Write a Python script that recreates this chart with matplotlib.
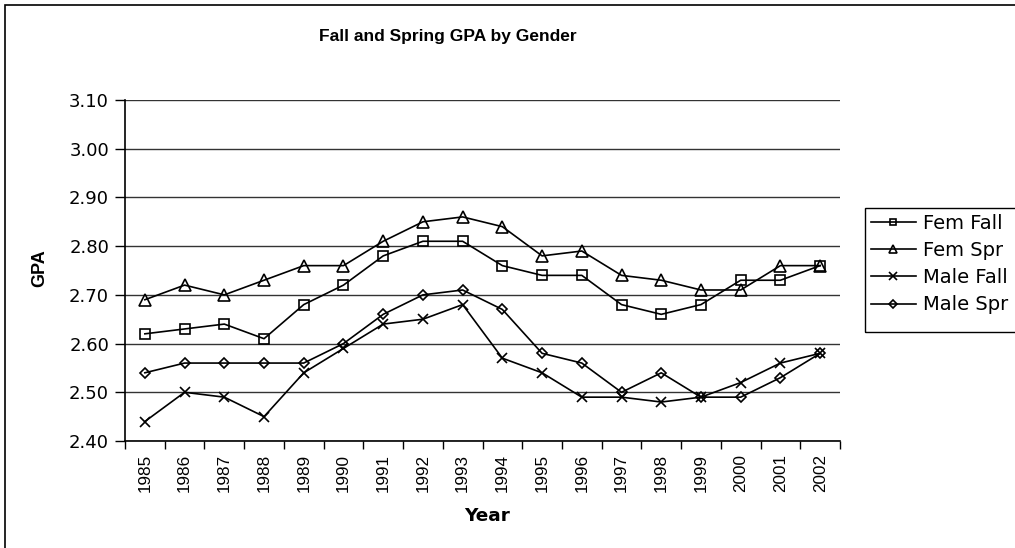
import matplotlib
matplotlib.use("Agg")
import matplotlib.pyplot as plt
from matplotlib.patches import Rectangle
import numpy as np

plt.rcParams['font.family'] = ['DejaVu Sans']

years = ['1985', '1986', '1987', '1988', '1989', '1990', '1991', '1992', '1993',
         '1994', '1995', '1996', '1997', '1998', '1999', '2000', '2001', '2002']
fem_fall = [2.62, 2.63, 2.64, 2.61, 2.68, 2.72, 2.78, 2.81, 2.81, 2.76, 2.74, 2.74,
            2.68, 2.66, 2.68, 2.73, 2.73, 2.76]
fem_spr = [2.69, 2.72, 2.70, 2.73, 2.76, 2.76, 2.81, 2.85, 2.86, 2.84, 2.78, 2.79,
           2.74, 2.73, 2.71, 2.71, 2.76, 2.76]
male_fall = [2.44, 2.50, 2.49, 2.45, 2.54, 2.59, 2.64, 2.65, 2.68, 2.57, 2.54, 2.49,
             2.49, 2.48, 2.49, 2.52, 2.56, 2.58]
male_spr = [2.54, 2.56, 2.56, 2.56, 2.56, 2.60, 2.66, 2.70, 2.71, 2.67, 2.58, 2.56,
            2.50, 2.54, 2.49, 2.49, 2.53, 2.58]
yticks = [2.40, 2.50, 2.60, 2.70, 2.80, 2.90, 3.00, 3.10]

W, H = 1015, 548
fig = plt.figure(figsize=(W/100, H/100), dpi=100)
ax = fig.add_axes([125/W, 1-441/H, (840-125)/W, (441-100)/H])

x = np.arange(len(years))
series = [
    (fem_fall, 's', 'Fem Fall', 6.5),
    (fem_spr, '^', 'Fem Spr', 8),
    (male_fall, 'x', 'Male Fall', 7.5),
    (male_spr, 'D', 'Male Spr', 5.5),
]
handles = []
for vals, m, lab, ms in series:
    h, = ax.plot(x, vals, color='black', lw=1.2, marker=m, ms=ms,
                 mfc='none', mec='black', mew=1.2, label=lab)
    handles.append(h)

ax.set_xlim(-0.5, len(years)-0.5)
ax.set_ylim(2.40, 3.10)
ax.set_yticks(yticks)
ax.set_yticklabels([f'{v:.2f}' for v in yticks], fontsize=13, family='DejaVu Sans')
ax.set_xticks(x)
ax.set_xticklabels(years, rotation=90, fontsize=12.3, family='Liberation Sans')
ax.tick_params(axis='x', which='major', length=0, pad=9)
ax.set_xticks(np.arange(-0.5, len(years), 1), minor=True)
ax.tick_params(axis='x', which='minor', length=6, direction='out', width=1)
ax.tick_params(axis='y', length=7, direction='out', width=1, pad=4.5)
ax.grid(axis='y', color='#333333', lw=1)
ax.set_axisbelow(True)
for s in ['top', 'right']:
    ax.spines[s].set_visible(False)
for s in ['left', 'bottom']:
    ax.spines[s].set_linewidth(1.2)

fig.text(40/W, 1-268/H, 'GPA', rotation=90, ha='center', va='center',
         fontsize=13, fontweight='bold', family='Liberation Sans')
fig.text(487/W, 1-516/H, 'Year', ha='center', va='center',
         fontsize=13.3, fontweight='bold', family='DejaVu Sans')

fig.text(448/W, 1-37/H, 'Fall and Spring GPA by Gender', ha='center', va='center',
         fontsize=12.5, fontweight='bold', family='Liberation Sans')

leg = fig.legend(handles=handles, loc='upper left', bbox_to_anchor=(865/W, 1-208/H),
                 frameon=False, prop={'family': 'DejaVu Sans', 'size': 14},
                 handlelength=2.3, markerscale=0.7, borderpad=0.3, labelspacing=0.42,
                 handletextpad=0.36, borderaxespad=0)
# legend frame drawn as its own box so it can run past the right edge like the original
fig.patches.append(Rectangle((865/W, 1-332/H), 160/W, 124/H, transform=fig.transFigure,
                             fill=False, edgecolor='black', lw=1))

fig.patches.append(Rectangle((5/W, -0.01), 1.05, 1-5/H+0.01, transform=fig.transFigure,
                             fill=False, edgecolor='black', lw=1.2))

fig.savefig('out.png', dpi=100)
